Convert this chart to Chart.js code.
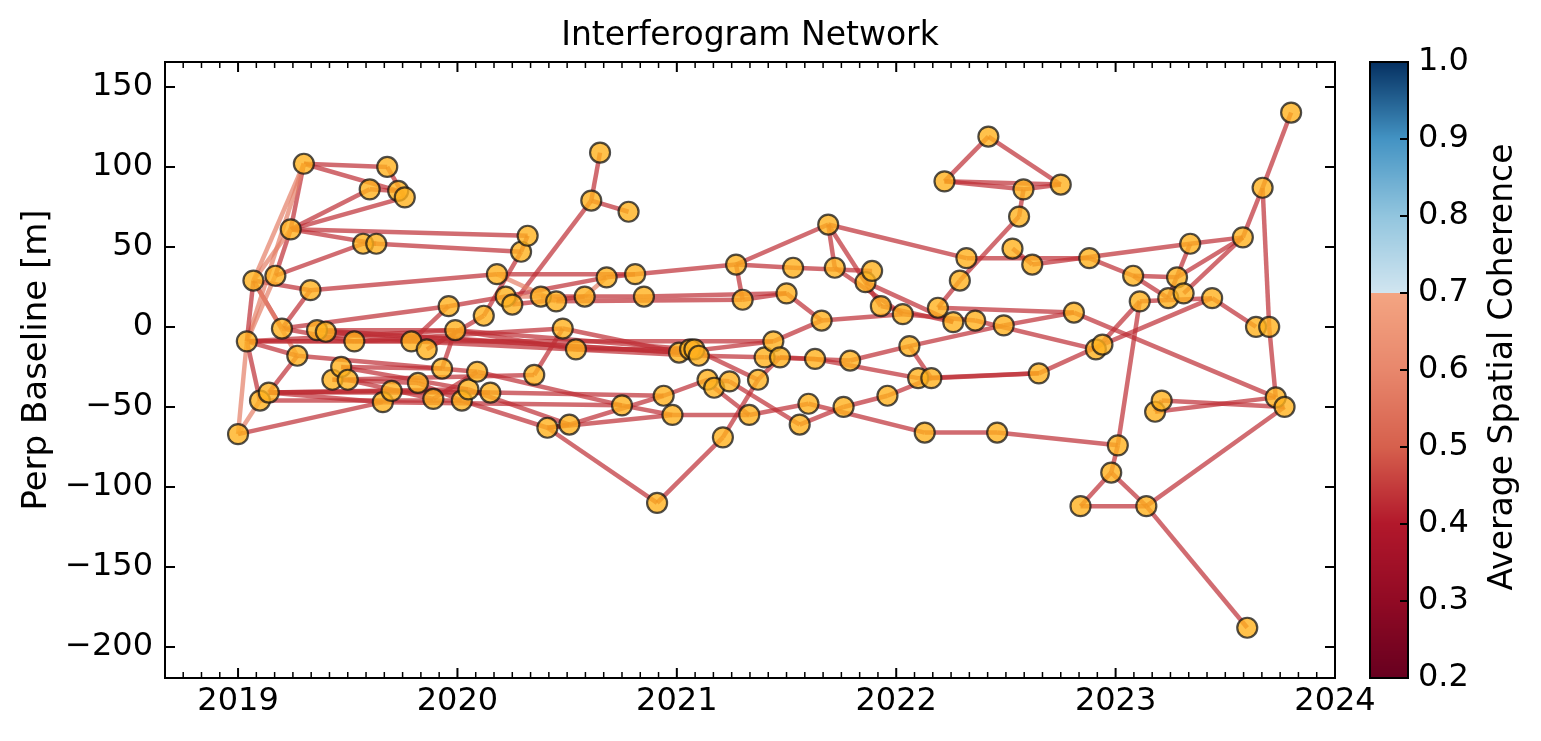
<!DOCTYPE html>
<html><head><meta charset="utf-8">
<script src="https://cdn.jsdelivr.net/npm/chart.js@4.4.1/dist/chart.umd.min.js"></script>
<style>html,body{margin:0;padding:0;background:#fff}#w{width:1541px;height:741px}</style>
</head><body><div id="w"><canvas id="c"></canvas></div>
<script>
const dates=[2019.00,2019.04,2019.07,2019.10,2019.14,2019.17,2019.20,2019.24,2019.27,2019.30,2019.33,2019.36,2019.40,2019.43,2019.47,2019.50,2019.53,2019.57,2019.60,2019.63,2019.66,2019.68,2019.70,2019.73,2019.76,2019.79,2019.82,2019.86,2019.89,2019.93,2019.96,2019.99,2020.02,2020.05,2020.09,2020.12,2020.15,2020.18,2020.22,2020.25,2020.29,2020.32,2020.35,2020.38,2020.41,2020.45,2020.48,2020.51,2020.54,2020.58,2020.61,2020.65,2020.68,2020.75,2020.78,2020.81,2020.85,2020.91,2020.94,2020.98,2021.01,2021.06,2021.08,2021.10,2021.14,2021.17,2021.21,2021.24,2021.27,2021.30,2021.33,2021.37,2021.40,2021.44,2021.47,2021.50,2021.53,2021.56,2021.60,2021.63,2021.66,2021.69,2021.72,2021.76,2021.79,2021.86,2021.89,2021.93,2021.96,2022.03,2022.06,2022.10,2022.13,2022.16,2022.19,2022.22,2022.26,2022.29,2022.32,2022.36,2022.42,2022.46,2022.49,2022.53,2022.56,2022.58,2022.62,2022.65,2022.75,2022.81,2022.84,2022.88,2022.91,2022.94,2022.98,2023.01,2023.08,2023.11,2023.14,2023.18,2023.21,2023.24,2023.28,2023.31,2023.34,2023.44,2023.58,2023.60,2023.64,2023.67,2023.70,2023.73,2023.77,2023.80];
const baselines=[-67,-9,29,-46,-41,32,-1,61,-18,102,23,-2,-3,-33,-25,-33,-9,52,86,52,-47,100,-40,85,81,-9,-35,-14,-45,-26,13,-2,-46,-39,-28,7,-41,33,19,14,47,57,-30,19,-63,16,-1,-61,-14,19,79,109,31,-49,72,33,19,-110,-43,-55,-16,-14,-14,-18,-33,-38,-69,-34,39,17,-55,-33,-19,-9,-19,21,37,-61,-48,-20,4,64,37,-50,-21,28,35,13,-43,8,-12,-32,-66,-32,12,91,3,29,43,4,119,-66,1,49,69,86,39,-29,89,9,-112,43,-14,-11,-91,-74,32,16,-112,-53,-46,18,31,21,52,18,56,-188,0,87,0,-44,-50,134];
const edgeFrom=[0,0,1,1,1,1,1,1,1,1,2,2,2,2,2,3,4,4,4,4,4,5,5,6,6,6,7,7,7,7,7,9,9,10,11,12,13,13,14,14,15,16,17,19,21,18,22,25,26,27,28,29,30,31,32,33,34,35,36,37,37,38,38,39,39,40,42,43,44,44,45,46,47,48,49,50,50,52,53,55,56,44,57,58,59,60,60,61,62,63,64,65,66,67,68,68,68,69,70,71,72,73,74,75,76,77,78,79,80,81,81,81,82,83,84,85,87,88,89,90,90,91,92,93,94,94,95,95,95,97,98,99,100,101,102,103,104,105,106,107,109,110,110,111,112,113,114,114,115,116,116,117,118,118,119,119,120,121,122,123,124,125,126,129,129,130,12,25,16,31,3,8,11,20];
const edgeTo=[1,20,2,3,8,16,25,31,5,9,9,7,10,8,6,0,8,33,20,22,36,7,17,10,30,16,9,18,19,41,24,21,23,37,31,25,42,26,29,33,28,46,19,40,24,23,36,30,32,35,34,31,38,48,44,47,53,40,58,45,55,43,52,50,49,41,46,56,47,59,69,60,58,62,52,51,54,55,59,68,75,57,66,64,70,62,73,63,71,72,67,70,71,77,81,69,76,75,78,74,84,80,79,80,86,83,92,91,89,82,98,87,89,88,90,96,96,93,99,93,102,107,101,107,97,109,100,105,108,104,111,112,108,115,109,106,105,108,124,113,131,114,118,116,117,125,115,118,117,121,122,125,127,132,120,131,132,124,126,126,126,128,129,133,130,131,60,63,73,61,32,34,60,53];
const lightEdges=[[0,1],[0,3],[1,5],[1,9],[2,9],[2,7],[2,8],[38,43],[37,45],[52,49]];
const yTicks=[-200,-150,-100,-50,0,50,100,150];
const xTicks=[2019,2020,2021,2022,2023,2024];
const cbTicks=[0.2,0.3,0.4,0.5,0.6,0.7,0.8,0.9,1.0];

const FONT='"DejaVu Sans", sans-serif';
const lowStops=[[0.2,[103,0,31]],[0.3,[145,10,36]],[0.4,[178,24,43]],[0.5,[214,96,77]],[0.6,[232,135,108]],[0.7,[244,165,130]]];
const highStops=[[0.7,[209,229,240]],[0.8,[146,197,222]],[0.9,[67,147,195]],[1.0,[5,48,97]]];
function cmap(v,stops){for(let i=0;i<stops.length-1;i++){const[a,ca]=stops[i],[b,cb]=stops[i+1];if(v<=b){const t=(v-a)/(b-a);return ca.map((c,k)=>Math.round(c+(cb[k]-c)*t));}}return stops[stops.length-1][1];}
const isLight=(a,b)=>lightEdges.some(e=>(e[0]===a&&e[1]===b)||(e[0]===b&&e[1]===a));

const datasets=[];
for(let i=0;i<edgeFrom.length;i++){
  const a=edgeFrom[i],b=edgeTo[i];
  const coh=isLight(a,b)?0.58:0.43;
  const c=cmap(coh,lowStops);
  datasets.push({type:'scatter',showLine:true,data:[{x:dates[a],y:baselines[a]},{x:dates[b],y:baselines[b]}],
    borderColor:`rgba(${c[0]},${c[1]},${c[2]},0.7)`,borderWidth:4.5,pointRadius:0,order:2});
}
datasets.push({type:'scatter',data:dates.map((d,i)=>({x:d,y:baselines[i]})),pointRadius:10,pointBackgroundColor:'rgba(255,178,30,0.8)',pointBorderColor:'rgba(20,20,20,0.75)',pointBorderWidth:2.2,order:1});

const L=165,R=1335,T=62,B=678;
const deco={id:'deco',afterDraw(ch){
  const ctx=ch.ctx,xs=ch.scales.x,ys=ch.scales.y;
  ctx.save();
  ctx.strokeStyle='#000';ctx.lineWidth=2;ctx.strokeRect(L,T,R-L,B-T);
  for(const t of xTicks){const p=xs.getPixelForValue(t);ctx.beginPath();ctx.moveTo(p,B);ctx.lineTo(p,B-10);ctx.moveTo(p,T);ctx.lineTo(p,T+10);ctx.stroke();}
  ctx.lineWidth=1.5;
  for(let m=Math.ceil(xs.min*12);m<=xs.max*12;m++){if(m%12===0)continue;const p=xs.getPixelForValue(m/12);ctx.beginPath();ctx.moveTo(p,B);ctx.lineTo(p,B-6);ctx.moveTo(p,T);ctx.lineTo(p,T+6);ctx.stroke();}
  ctx.lineWidth=2;
  for(const t of yTicks){const p=ys.getPixelForValue(t);ctx.beginPath();ctx.moveTo(L,p);ctx.lineTo(L+10,p);ctx.moveTo(R,p);ctx.lineTo(R-10,p);ctx.stroke();}
  ctx.fillStyle='#000';ctx.font='32px '+FONT;ctx.textAlign='right';ctx.textBaseline='middle';
  for(const t of yTicks){ctx.fillText(t<0?'\u2212'+(-t):String(t),L-12,ys.getPixelForValue(t));}
  ctx.textAlign='center';ctx.textBaseline='top';
  for(const t of xTicks){ctx.fillText(String(t),xs.getPixelForValue(t),B+8);}
  ctx.font='33px '+FONT;ctx.textBaseline='alphabetic';ctx.fillText('Interferogram Network',(L+R)/2,T-17);
  ctx.save();ctx.translate(37,360);ctx.rotate(-Math.PI/2);ctx.textBaseline='middle';ctx.font='34px '+FONT;ctx.fillText('Perp Baseline [m]',0,0);ctx.restore();
  const cx=1370,cw=38;const cy=v=>B-(v-0.2)/0.8*(B-T);
  for(let y=T;y<B;y++){const v=0.2+(B-y-0.5)/(B-T)*0.8;const c=v<0.7?cmap(v,lowStops):cmap(v,highStops);ctx.fillStyle=`rgb(${c})`;ctx.fillRect(cx,y,cw,1);}
  ctx.strokeStyle='#000';ctx.lineWidth=2;ctx.strokeRect(cx,T,cw,B-T);
  ctx.fillStyle='#000';ctx.font='32px '+FONT;ctx.textAlign='left';ctx.textBaseline='middle';
  for(const t of cbTicks){const p=cy(t);ctx.beginPath();ctx.moveTo(cx+cw,p);ctx.lineTo(cx+cw-8,p);ctx.stroke();ctx.fillText(t.toFixed(1),cx+cw+10,p);}
  ctx.save();ctx.translate(1503,367);ctx.rotate(-Math.PI/2);ctx.textAlign='center';ctx.font='33px '+FONT;ctx.fillText('Average Spatial Coherence',0,0);ctx.restore();
  ctx.restore();
}};

new Chart(document.getElementById('c'),{
  data:{datasets},
  options:{responsive:true,maintainAspectRatio:false,animation:false,
    layout:{padding:{left:L,right:1541-R,top:T,bottom:741-B}},
    plugins:{legend:{display:false},tooltip:{enabled:false}},
    scales:{
      x:{type:'linear',min:2018.667,max:2024.0,display:true,grid:{display:false},border:{display:false},ticks:{display:false},afterFit(s){s.height=0;}},
      y:{type:'linear',min:-219.4,max:165.6,display:true,grid:{display:false},border:{display:false},ticks:{display:false},afterFit(s){s.width=0;}}
    }
  },
  plugins:[deco]
});
</script></body></html>
